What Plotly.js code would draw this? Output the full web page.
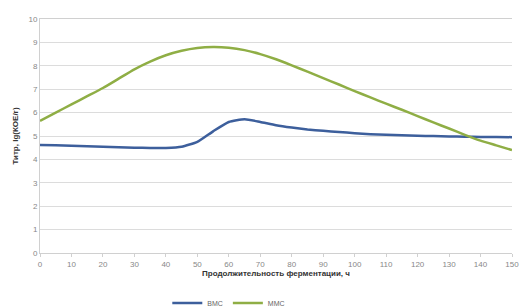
<!DOCTYPE html>
<html>
<head>
<meta charset="utf-8">
<script src="https://cdn.plot.ly/plotly-3.0.1.min.js"></script>
<style>html,body{margin:0;padding:0;background:#fff;}#chart{width:527px;height:307px;}</style>
</head>
<body>
<div id="chart"></div>
<script>
const hours = [0, 5, 10, 15, 20, 25, 30, 35, 40, 45, 50, 55, 60, 65, 70, 75, 80, 85, 90, 95, 100, 105, 110, 115, 120, 125, 130, 135, 140, 145, 150];
const vmsTiter = [4.62, 4.6, 4.58, 4.56, 4.54, 4.52, 4.5, 4.49, 4.49, 4.54, 4.75, 5.2, 5.6, 5.72, 5.6, 5.46, 5.36, 5.28, 5.22, 5.17, 5.12, 5.08, 5.05, 5.03, 5.01, 5.0, 4.98, 4.97, 4.96, 4.96, 4.95];
const mmsTiter = [5.65, 6.0, 6.35, 6.7, 7.05, 7.45, 7.85, 8.18, 8.45, 8.64, 8.76, 8.8, 8.77, 8.67, 8.5, 8.28, 8.02, 7.75, 7.47, 7.2, 6.92, 6.65, 6.38, 6.12, 5.85, 5.58, 5.32, 5.05, 4.8, 4.6, 4.4];
const seriesNames = ["ВМС", "ММС"];
const xTicks = [0, 10, 20, 30, 40, 50, 60, 70, 80, 90, 100, 110, 120, 130, 140, 150];
const yTicks = [0, 1, 2, 3, 4, 5, 6, 7, 8, 9, 10];

const traces = [
  {x: hours, y: vmsTiter, name: seriesNames[0], mode: 'lines',
   line: {color: '#3d5f9c', width: 2.5, shape: 'spline', smoothing: 0.5}},
  {x: hours, y: mmsTiter, name: seriesNames[1], mode: 'lines',
   line: {color: '#8fae45', width: 2.5, shape: 'spline', smoothing: 0.5}}
];

const layout = {
  width: 527, height: 307,
  margin: {l: 40, r: 15, t: 19, b: 54, autoexpand: false},
  paper_bgcolor: '#fff', plot_bgcolor: '#fff',
  font: {family: 'Liberation Sans, Arial, sans-serif', size: 8, color: '#777'},
  showlegend: true,
  legend: {orientation: 'h', x: 0.4, xanchor: 'center', yref: 'container', y: 0.06, yanchor: 'top',
           font: {size: 7, color: '#666'}, tracegroupgap: 0},
  xaxis: {range: [0, 150], tickvals: xTicks, ticktext: xTicks.map(String),
          showgrid: false, zeroline: false, showline: true, linecolor: '#d0d0d0', linewidth: 1,
          mirror: true, ticks: 'outside', ticklen: 3, tickcolor: '#d0d0d0',
          tickfont: {size: 8, color: '#888'},
          title: {text: 'Продолжительность ферментации, ч', standoff: 2,
                  font: {size: 8, color: '#333', family: 'Liberation Sans, Arial, sans-serif', weight: 'bold'}}},
  yaxis: {range: [0, 10], tickvals: yTicks, ticktext: yTicks.map(String),
          showgrid: true, gridcolor: '#dcdcdc', gridwidth: 1, zeroline: false,
          showline: true, linecolor: '#d0d0d0', linewidth: 1,
          ticks: '', tickfont: {size: 8, color: '#888'},
          title: {text: 'Титр, lg(КОЕ/г)', standoff: 8,
                  font: {size: 8, color: '#333', family: 'Liberation Sans, Arial, sans-serif', weight: 'bold'}}}
};

Plotly.newPlot('chart', traces, layout, {displayModeBar: false, staticPlot: true});
</script>
</body>
</html>
